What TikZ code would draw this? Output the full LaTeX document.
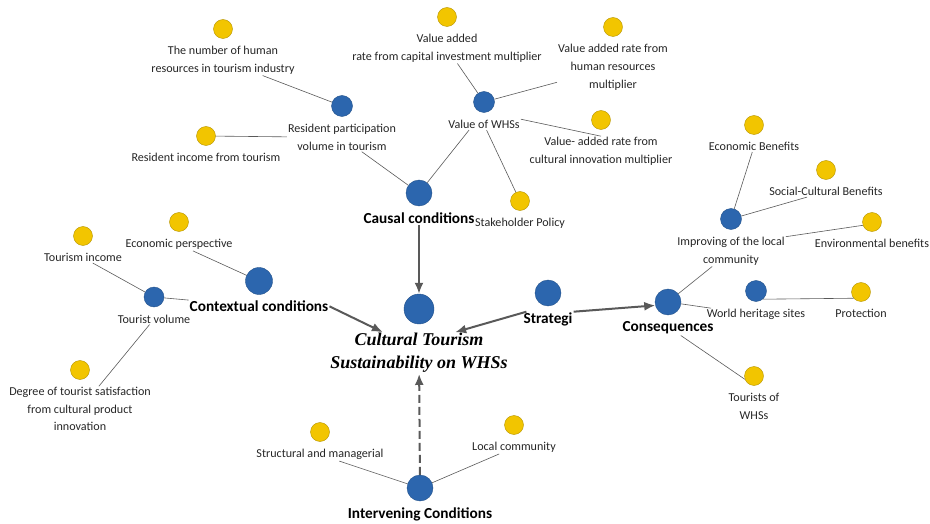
\documentclass[tikz,border=0pt]{standalone}
\usepackage{fontspec}
\setmainfont{Carlito}
\newfontfamily\titlefont{Liberation Serif}
\usetikzlibrary{arrows.meta, positioning}
\definecolor{dotblue}{HTML}{2C66AE}
\definecolor{dotyellow}{HTML}{F2C500}

\begin{document}
\begin{tikzpicture}[
  x=1pt, y=-1pt,
  bdot/.style={circle, draw=dotblue!80!black, fill=dotblue, minimum size=#1, inner sep=0pt},
  bdot/.default=21pt,
  ydot/.style={circle, draw=dotyellow!75!black, fill=dotyellow, minimum size=19pt, inner sep=0pt},
  lbl/.style={align=center, font=\fontsize{12.1}{17.6}\selectfont, text=black!85, inner sep=1pt},
  cat/.style={font=\bfseries\fontsize{15.3}{17}\selectfont, inner sep=1pt},
  link/.style={draw=black!65, line width=0.6pt},
  flow/.style={-{Latex[length=11pt, width=9pt]}, draw=black!65, line width=2pt}
]
\useasboundingbox (0,0) rectangle (930,524);

% core
\node[bdot=30pt] (core) at (419,309) {};
\node[below=8pt of core, font=\titlefont\bfseries\itshape\fontsize{18}{23}\selectfont,
  align=center, inner sep=1pt] (core-t) {Cultural Tourism\\Sustainability on WHSs};

% categories
\node[bdot=26pt] (causal) at (419,193) {};
\node[cat, below=5.5pt of causal] (causal-t) {Causal conditions};
\node[bdot=27pt] (context) at (259,281) {};
\node[cat, below=5pt of context] (context-t) {Contextual conditions};
\node[bdot=26pt] (strat) at (548,293) {};
\node[cat, below=5.5pt of strat] (strat-t) {Strategi};
\node[bdot=26pt] (conseq) at (668,302) {};
\node[cat, below=5.5pt of conseq] (conseq-t) {Consequences};
\node[bdot=26pt] (interv) at (420,488) {};
\node[cat, below=5pt of interv] (interv-t) {Intervening Conditions};

% sub factors
\node[bdot] (resid) at (342,106) {};
\node[lbl, below=6.5pt of resid] (resid-t) {Resident participation\\volume in tourism};
\node[bdot] (whs) at (484,102) {};
\node[lbl, below=6.5pt of whs] (whs-t) {Value of WHSs};
\node[bdot=20pt] (tvol) at (154,297) {};
\node[lbl, below=6.5pt of tvol] (tvol-t) {Tourist volume};
\node[bdot] (local) at (731,219) {};
\node[lbl, below=6.5pt of local] (local-t) {Improving of the local\\community};
\node[bdot] (heritage) at (756,291) {};
\node[lbl, below=6.5pt of heritage] (heritage-t) {World heritage sites};

% indicators
\node[ydot] (hr) at (223,29) {};
\node[lbl, below=6.5pt of hr] (hr-t) {The number of human\\resources in tourism industry};
\node[ydot] (capital) at (447,17) {};
\node[lbl, below=6.5pt of capital] (capital-t) {Value added\\rate from capital investment multiplier};
\node[ydot] (human) at (613,27) {};
\node[lbl, below=6.5pt of human] (human-t) {Value added rate from\\human resources\\multiplier};
\node[ydot] (innov) at (601,120) {};
\node[lbl, below=6.5pt of innov] (innov-t) {Value- added rate from\\cultural innovation multiplier};
\node[ydot] (policy) at (520,201) {};
\node[lbl, below=6.5pt of policy] (policy-t) {Stakeholder Policy};
\node[ydot] (rinc) at (206,136) {};
\node[lbl, below=6.5pt of rinc] (rinc-t) {Resident income from tourism};
\node[ydot] (econp) at (179,222) {};
\node[lbl, below=6.5pt of econp] (econp-t) {Economic perspective};
\node[ydot] (tinc) at (83,236) {};
\node[lbl, below=6.5pt of tinc] (tinc-t) {Tourism income};
\node[ydot] (satisf) at (80,370) {};
\node[lbl, below=6.5pt of satisf] (satisf-t) {Degree of tourist satisfaction\\from cultural product\\innovation};
\node[ydot] (struct) at (320,432) {};
\node[lbl, below=6.5pt of struct] (struct-t) {Structural and managerial};
\node[ydot] (comm) at (514,425) {};
\node[lbl, below=6.5pt of comm] (comm-t) {Local community};
\node[ydot] (ebene) at (754,125) {};
\node[lbl, below=6.5pt of ebene] (ebene-t) {Economic Benefits};
\node[ydot] (social) at (826,170) {};
\node[lbl, below=6.5pt of social] (social-t) {Social-Cultural Benefits};
\node[ydot] (envir) at (872,222) {};
\node[lbl, below=6.5pt of envir] (envir-t) {Environmental benefits};
\node[ydot] (protect) at (861,292) {};
\node[lbl, below=6.5pt of protect] (protect-t) {Protection};
\node[ydot] (twhs) at (754,376) {};
\node[lbl, below=6.5pt of twhs] (twhs-t) {Tourists of\\WHSs};

% causal conditions
\draw[link] (hr-t) -- (resid);
\draw[link] (rinc) -- (resid-t);
\draw[link] (resid-t) -- (causal);
\draw[link] (whs-t.200) -- (causal);
\draw[link] (capital-t) -- (whs);
\draw[link] (human-t) -- (whs);
\draw[link] (whs-t.north east) -- (innov-t.north);
\draw[link] (policy) -- (whs-t);
\draw[flow] (causal-t) -- (core);

% contextual conditions
\draw[link] (econp-t) -- (context);
\draw[link] (tinc-t) -- (tvol);
\draw[link] (tvol) -- (context-t);
\draw[link] (satisf-t) -- (tvol-t);
\draw[flow] (context-t.east) -- (core-t.150);

% strategies and consequences
\draw[flow] (strat-t.160) -- (core-t.30);
\draw[flow] (strat-t.north east) -- (conseq.195);
\draw[link] (conseq) -- (local-t);
\draw[link] (conseq) -- (heritage-t);
\draw[link] (heritage.-50) -- (protect.220);
\draw[link] (conseq-t.-30) -- (twhs.200);
\draw[link] (ebene-t) -- (local);
\draw[link] (social-t) -- (local);
\draw[link] (local-t.15) -- (envir.200);

% intervening conditions
\draw[flow, dash pattern=on 8pt off 4pt] (interv) -- (core-t);
\draw[link] (struct-t) -- (interv);
\draw[link] (comm-t) -- (interv);
\end{tikzpicture}
\end{document}
